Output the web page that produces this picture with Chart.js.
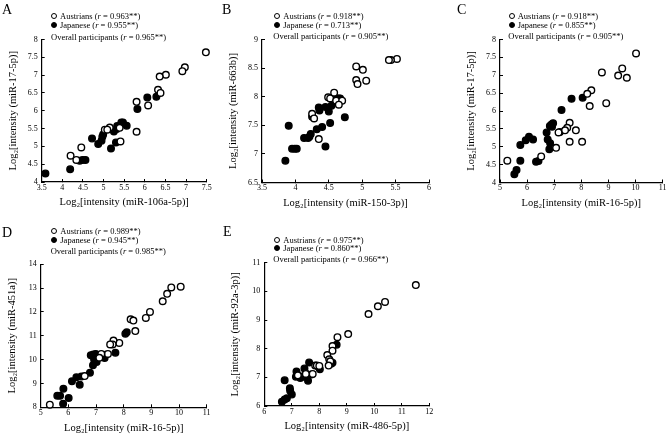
<!DOCTYPE html>
<html>
<head>
<meta charset="utf-8">
<script src="https://cdn.jsdelivr.net/npm/chart.js@4/dist/chart.umd.min.js"></script>
<style>
body { margin: 0; background: #fff; }
#wrap { position: relative; width: 668px; height: 434px; overflow: hidden; font-family: "Liberation Serif", serif; color: #000; }
#wrap canvas { position: absolute; left: 0; top: 0; }
.letter { position: absolute; font-size: 14px; line-height: 1; }
.leg { position: absolute; font-size: 8.5px; line-height: 9px; white-space: nowrap; }
.dot { display: inline-block; box-sizing: border-box; width: 6px; height: 6px; border-radius: 50%; border: 1.3px solid #000; margin-right: 3px; vertical-align: -0.5px; }
.dot.fill { background: #000; }
</style>
</head>
<body>
<div id="wrap"></div>
<script>
// ---- data (log2 intensities) ----
// Panel A: miR-106a-5p vs miR-17-5p
const aAustrians = [[7.48,7.64],[6.97,7.22],[6.91,7.11],[6.51,7.01],[6.36,6.96],[6.32,6.59],[6.38,6.50],[5.80,6.25],[6.08,6.15],[5.80,5.41],[5.39,5.52],[5.15,5.53],[5.03,5.47],[5.09,5.47],[5.41,5.14],[4.46,4.97],[4.20,4.74],[4.34,4.62]];
const aJapanese = [[3.59,4.24],[4.19,4.36],[4.42,4.60],[4.49,4.62],[4.56,4.62],[4.72,5.22],[4.87,5.07],[4.95,5.16],[4.97,5.27],[4.99,5.33],[5.18,4.94],[5.30,5.11],[5.25,5.42],[5.32,5.49],[5.33,5.57],[5.43,5.67],[5.47,5.67],[5.56,5.58],[5.82,6.05],[6.06,6.37],[6.28,6.39]];
const aXTicks = [3.5, 4, 4.5, 5, 5.5, 6, 6.5, 7, 7.5];
const aYTicks = [4, 4.5, 5, 5.5, 6, 6.5, 7, 7.5, 8];

// Panel B: miR-150-3p vs miR-663b
const bAustrians = [[5.52,8.66],[5.43,8.64],[5.40,8.64],[4.91,8.53],[5.01,8.47],[4.91,8.29],[4.93,8.22],[5.06,8.28],[4.58,8.07],[4.49,7.99],[4.52,7.97],[4.61,7.93],[4.70,7.93],[4.65,7.86],[4.25,7.70],[4.28,7.62],[4.35,7.26]];
const bJapanese = [[3.85,6.88],[3.90,7.49],[3.95,7.09],[3.99,7.09],[4.02,7.09],[4.13,7.28],[4.19,7.28],[4.21,7.30],[4.23,7.35],[4.25,7.65],[4.35,7.81],[4.36,7.76],[4.32,7.43],[4.40,7.47],[4.45,7.82],[4.45,7.13],[4.50,7.74],[4.52,7.54],[4.54,7.84],[4.62,7.97],[4.65,7.97],[4.67,7.97],[4.74,7.64]];
const bXTicks = [3.5, 4, 4.5, 5, 5.5, 6];
const bYTicks = [6.5, 7, 7.5, 8, 8.5, 9];

// Panel C: miR-16-5p vs miR-17-5p
const cAustrians = [[10.02,7.61],[8.76,7.08],[9.51,7.19],[9.36,6.99],[9.68,6.93],[8.37,6.58],[8.22,6.48],[8.31,6.14],[8.92,6.22],[7.57,5.67],[7.80,5.46],[7.48,5.53],[7.40,5.46],[7.16,5.40],[7.57,5.14],[8.03,5.14],[7.07,4.97],[6.52,4.73],[5.27,4.61]];
const cJapanese = [[5.53,4.23],[5.61,4.35],[5.75,4.61],[5.75,5.05],[5.95,5.18],[6.07,5.28],[6.22,5.20],[6.33,4.58],[6.42,4.60],[6.72,5.40],[6.76,5.20],[6.84,5.58],[6.90,5.62],[6.96,5.66],[6.82,4.93],[6.85,5.10],[6.92,5.56],[7.21,5.41],[7.27,6.03],[7.64,6.34],[8.05,6.37]];
const cXTicks = [5, 6, 7, 8, 9, 10, 11];
const cYTicks = [4, 4.5, 5, 5.5, 6, 6.5, 7, 7.5, 8];

// Panel D: miR-16-5p vs miR-451a
const dAustrians = [[10.06,13.06],[9.72,13.03],[9.57,12.76],[9.41,12.45],[8.95,12.00],[8.80,11.75],[8.25,11.69],[8.35,11.64],[8.42,11.20],[7.84,10.70],[7.63,10.80],[7.60,10.64],[7.51,10.64],[7.43,10.24],[7.19,10.24],[7.12,10.08],[6.59,9.31],[5.33,8.11]];
const dJapanese = [[5.81,8.15],[6.01,8.39],[5.60,8.48],[5.70,8.48],[5.82,8.78],[6.13,9.09],[6.29,9.26],[6.41,8.95],[6.47,9.29],[6.78,9.45],[6.81,10.18],[6.90,10.22],[6.89,9.76],[6.93,10.01],[6.98,9.93],[7.02,9.90],[6.99,10.24],[7.31,10.07],[7.34,10.21],[7.70,10.29],[8.06,11.09],[8.11,11.15]];
const dXTicks = [5, 6, 7, 8, 9, 10, 11];
const dYTicks = [8, 9, 10, 11, 12, 13, 14];

// Panel E: miR-486-5p vs miR-92a-3p
const eAustrians = [[11.51,10.22],[10.39,9.63],[10.13,9.48],[9.79,9.21],[9.05,8.51],[8.66,8.40],[8.48,8.09],[8.48,7.93],[8.29,7.78],[8.36,7.63],[8.40,7.56],[8.34,7.41],[7.85,7.41],[7.91,7.41],[8.00,7.40],[7.76,7.12],[7.51,7.12],[7.22,7.07]];
const eJapanese = [[6.64,6.15],[6.74,6.23],[6.82,6.27],[6.74,6.90],[6.93,6.62],[6.94,6.53],[7.00,6.40],[7.15,7.02],[7.17,7.20],[7.31,6.98],[7.39,7.02],[7.46,7.31],[7.50,7.14],[7.59,7.08],[7.71,7.10],[7.59,6.88],[7.63,7.52],[7.97,7.37],[8.02,7.28],[8.43,7.47],[8.48,7.51],[8.63,8.14]];
const eXTicks = [6, 7, 8, 9, 10, 11, 12];
const eYTicks = [6, 7, 8, 9, 10, 11];

// correlation coefficients shown in legends: [Austrians, Japanese, overall]
const rValues = {
    A: ['0.963', '0.955', '0.965'],
    B: ['0.918', '0.713', '0.905'],
    C: ['0.918', '0.855', '0.905'],
    D: ['0.989', '0.945', '0.985'],
    E: ['0.975', '0.860', '0.966']
};

// ---- layout ----
const W = 668, H = 434;
const Y_W = 36;   // fixed width of y axis block
const X_H = 27;   // fixed height of x axis block
const FONT = 'Liberation Serif';

const panels = [
    { id: 'A', aus: aAustrians, jpn: aJapanese, xTicks: aXTicks, yTicks: aYTicks,
      xTitle: 'Log₂[intensity (miR-106a-5p)]', yTitle: 'Log₂[intensity (miR-17-5p)]',
      box: [41.7, 39.5, 206.7, 182], letter: [2, 2.5], leg: [54, 16, 25, 51, 37] },
    { id: 'B', aus: bAustrians, jpn: bJapanese, xTicks: bXTicks, yTicks: bYTicks,
      xTitle: 'Log₂[intensity (miR-150-3p)]', yTitle: 'Log₂[intensity (miR-663b)]',
      box: [262, 39.5, 429, 182.5], letter: [222, 2.5], leg: [277.3, 16, 25.3, 273.3, 36.7] },
    { id: 'C', aus: cAustrians, jpn: cJapanese, xTicks: cXTicks, yTicks: cYTicks,
      xTitle: 'Log₂[intensity (miR-16-5p)]', yTitle: 'Log₂[intensity (miR-17-5p)]',
      box: [500, 39.5, 665.7, 182.5], letter: [457, 2.5], leg: [511.7, 16, 25.3, 508.3, 36.7] },
    { id: 'D', aus: dAustrians, jpn: dJapanese, xTicks: dXTicks, yTicks: dYTicks,
      xTitle: 'Log₂[intensity (miR-16-5p)]', yTitle: 'Log₂[intensity (miR-451a)]',
      box: [40.7, 264.3, 206.7, 407.3], letter: [2, 226], leg: [54.3, 231, 240.3, 50.7, 251.7] },
    { id: 'E', aus: eAustrians, jpn: eJapanese, xTicks: eXTicks, yTicks: eYTicks,
      xTitle: 'Log₂[intensity (miR-486-5p)]', yTitle: 'Log₂[intensity (miR-92a-3p)]',
      box: [264.3, 262.7, 429.3, 406], letter: [223, 225], leg: [277.3, 240, 248.3, 273.3, 259.3] }
];

function toPoints(pairs) {
    return pairs.map(p => ({ x: p[0], y: p[1] }));
}

function makeAxis(ticks, title, dir) {
    return {
        type: 'linear',
        min: ticks[0],
        max: ticks[ticks.length - 1],
        afterBuildTicks: scale => { scale.ticks = ticks.map(v => ({ value: v })); },
        afterFit: scale => {
            if (dir === 'x') scale.height = X_H; else scale.width = Y_W;
            scale.paddingLeft = scale.paddingRight = scale.paddingTop = scale.paddingBottom = 0;
        },
        grid: { drawOnChartArea: false, drawTicks: true, tickLength: -3, color: '#000', lineWidth: 1 },
        border: { color: '#000', width: 1.2 },
        ticks: {
            color: '#000', font: { family: FONT, size: 8 }, padding: dir === 'x' ? 4 : 7,
            autoSkip: false, maxRotation: 0,
            callback: value => String(value)   // "4" not "4.0"
        },
        title: { display: true, text: title, color: '#000', font: { family: FONT, size: 10.5 },
                 padding: dir === 'x' ? { top: 0, bottom: 0 } : { top: 1, bottom: 0 } }
    };
}

function addLegend(wrap, p) {
    const r = rValues[p.id];
    const [mx, y1, y2, ox, y3] = p.leg;
    const lines = [
        { x: mx - 3, y: y1, html: '<span class="dot"></span>Austrians (<i>r</i> = ' + r[0] + '**)' },
        { x: mx - 3, y: y2, html: '<span class="dot fill"></span>Japanese (<i>r</i> = ' + r[1] + '**)' },
        { x: ox, y: y3, html: 'Overall participants (<i>r</i> = ' + r[2] + '**)' }
    ];
    lines.forEach(l => {
        const div = document.createElement('div');
        div.className = 'leg';
        div.style.left = l.x + 'px';
        div.style.top = (l.y - 4.5) + 'px';
        div.innerHTML = l.html;
        wrap.appendChild(div);
    });
    const letter = document.createElement('div');
    letter.className = 'letter';
    letter.style.left = p.letter[0] + 'px';
    letter.style.top = p.letter[1] + 'px';
    letter.textContent = p.id;
    wrap.appendChild(letter);
}

function makePanel(wrap, p) {
    const canvas = document.createElement('canvas');
    canvas.width = W;
    canvas.height = H;
    wrap.appendChild(canvas);
    const [left, top, right, bottom] = p.box;
    new Chart(canvas, {
        type: 'scatter',
        data: {
            datasets: [
                { label: 'Austrians', data: toPoints(p.aus), order: 0,
                  pointRadius: 3.3, pointBorderWidth: 1.4, borderColor: '#000', backgroundColor: '#fff' },
                { label: 'Japanese', data: toPoints(p.jpn), order: 1,
                  pointRadius: 3.3, pointBorderWidth: 1.4, borderColor: '#000', backgroundColor: '#000' }
            ]
        },
        options: {
            responsive: false,
            animation: false,
            devicePixelRatio: 1,
            clip: false,
            layout: { padding: { left: left - Y_W, top: top, right: W - right, bottom: H - bottom - X_H } },
            plugins: { legend: { display: false }, tooltip: { enabled: false } },
            scales: {
                x: makeAxis(p.xTicks, p.xTitle, 'x'),
                y: makeAxis(p.yTicks, p.yTitle, 'y')
            }
        }
    });
}

document.addEventListener('DOMContentLoaded', function() {
    const wrap = document.getElementById('wrap');
    panels.forEach(p => {
        makePanel(wrap, p);
        addLegend(wrap, p);
    });
});
</script>
</body>
</html>
